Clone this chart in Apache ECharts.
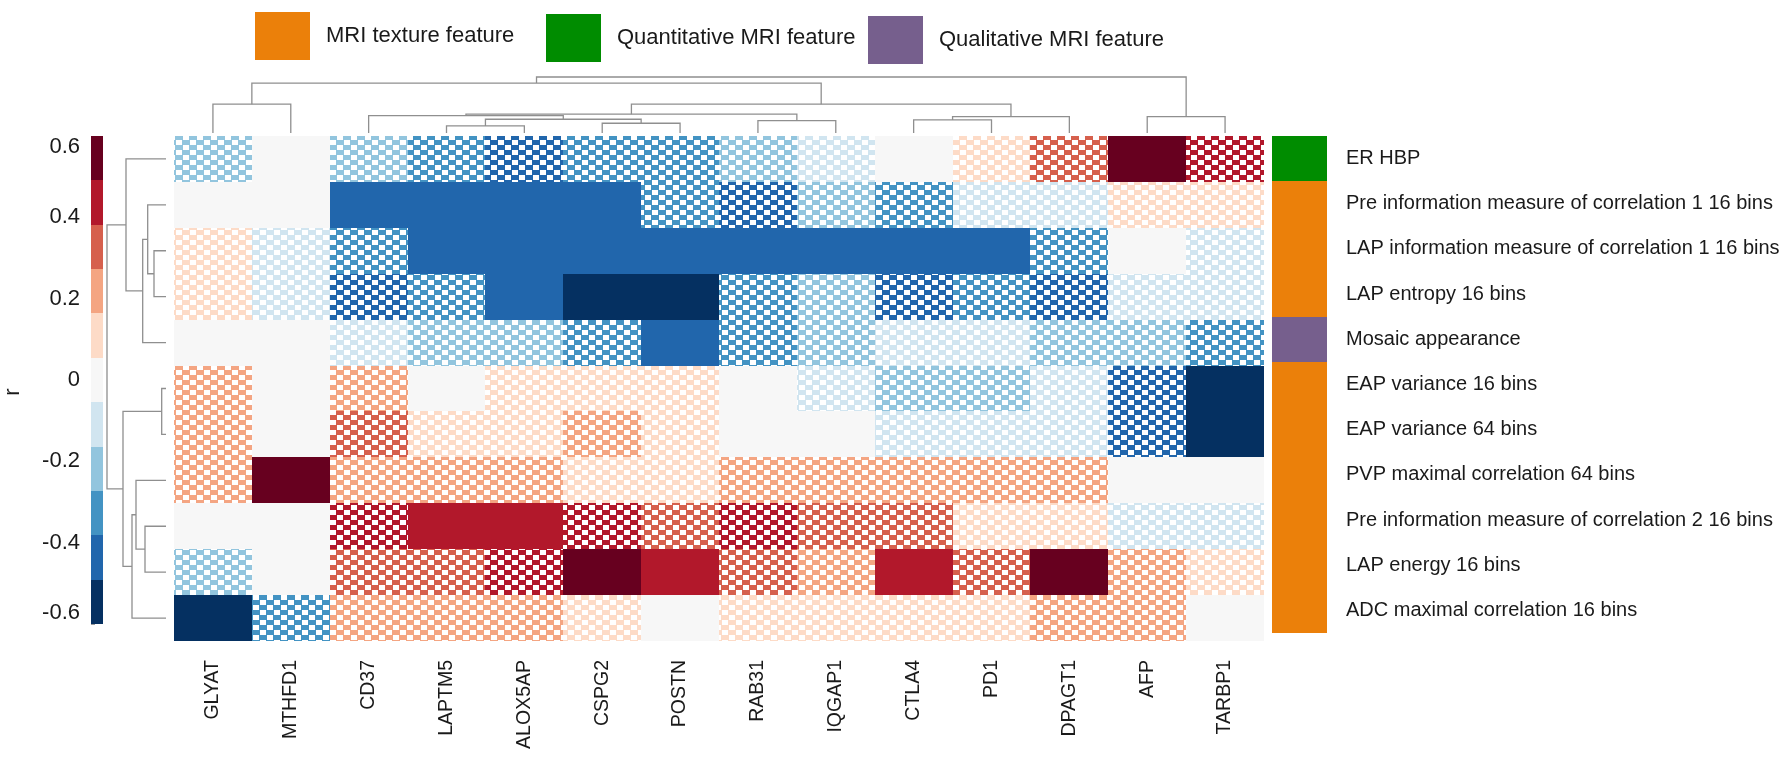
<!DOCTYPE html>
<html>
<head>
<meta charset="utf-8">
<script src="https://cdn.jsdelivr.net/npm/echarts@6/dist/echarts.min.js"></script>
<style>
html,body{margin:0;padding:0;background:#ffffff;}
#chart{width:1785px;height:757px;}
</style>
</head>
<body>
<div id="chart"></div>
<script>
// ---------------- DATA ----------------
const genes = ['GLYAT','MTHFD1','CD37','LAPTM5','ALOX5AP','CSPG2','POSTN','RAB31','IQGAP1','CTLA4','PD1','DPAGT1','AFP','TARBP1'];

const features = [
  'ER HBP',
  'Pre information measure of correlation 1 16 bins',
  'LAP information measure of correlation 1 16 bins',
  'LAP entropy 16 bins',
  'Mosaic appearance',
  'EAP variance 16 bins',
  'EAP variance 64 bins',
  'PVP maximal correlation 64 bins',
  'Pre information measure of correlation 2 16 bins',
  'LAP energy 16 bins',
  'ADC maximal correlation 16 bins'
];

const typeNames  = ['MRI texture feature','Quantitative MRI feature','Qualitative MRI feature'];
const typeColors = ['#eb800a','#008c00','#765f8d'];
// index into typeNames for each feature row
const featureType = [1,0,0,0,2,0,0,0,0,0,0];

// correlation r : rows = features, columns = genes
const rMatrix = [
  [-0.21, 0.02,-0.20,-0.31,-0.42,-0.33,-0.34,-0.23,-0.12, 0.01, 0.10, 0.33, 0.56, 0.43],
  [ 0.00,-0.01,-0.45,-0.44,-0.43,-0.45,-0.34,-0.41,-0.21,-0.32,-0.12,-0.11, 0.10, 0.09],
  [ 0.11,-0.10,-0.35,-0.44,-0.45,-0.46,-0.44,-0.43,-0.42,-0.44,-0.43,-0.31,-0.02,-0.12],
  [ 0.12,-0.11,-0.42,-0.32,-0.45,-0.56,-0.55,-0.33,-0.22,-0.41,-0.31,-0.42,-0.12,-0.10],
  [ 0.01, 0.00,-0.12,-0.22,-0.24,-0.31,-0.44,-0.32,-0.21,-0.11,-0.10,-0.21,-0.23,-0.33],
  [ 0.23, 0.00, 0.22, 0.02, 0.12, 0.11, 0.10,-0.01,-0.12,-0.23,-0.21,-0.11,-0.43,-0.57],
  [ 0.21, 0.01, 0.32, 0.11, 0.12, 0.23, 0.10, 0.00,-0.02,-0.11,-0.12,-0.10,-0.44,-0.58],
  [ 0.22, 0.56, 0.21, 0.22, 0.23, 0.12, 0.11, 0.22, 0.21, 0.23, 0.22, 0.21, 0.01,-0.01],
  [ 0.00, 0.01, 0.43, 0.44, 0.45, 0.42, 0.33, 0.44, 0.32, 0.34, 0.12, 0.11,-0.11,-0.12],
  [-0.22, 0.00, 0.33, 0.34, 0.43, 0.56, 0.45, 0.32, 0.23, 0.44, 0.34, 0.57, 0.22, 0.12],
  [-0.57,-0.33, 0.21, 0.22, 0.21, 0.12, 0.01, 0.11, 0.10, 0.12, 0.11, 0.22, 0.23, 0.00]
];

// 1 = significant (solid cell), 0 = not significant (checkered cell)
const sigMatrix = [
  [0,0,0,0,0,0,0,0,0,0,0,0,1,0],
  [0,0,1,1,1,1,0,0,0,0,0,0,0,0],
  [0,0,0,1,1,1,1,1,1,1,1,0,0,0],
  [0,0,0,0,1,1,1,0,0,0,0,0,0,0],
  [0,0,0,0,0,0,1,0,0,0,0,0,0,0],
  [0,0,0,1,0,0,0,1,0,0,0,0,0,1],
  [0,0,0,0,0,0,0,1,1,0,0,0,0,1],
  [0,1,0,0,0,0,0,0,0,0,0,0,1,1],
  [1,1,0,1,1,0,0,0,0,0,0,0,0,0],
  [0,1,0,0,0,1,1,0,0,1,0,1,0,0],
  [1,0,0,0,0,0,1,0,0,0,0,0,0,1]
];

// colour scale (11 classes)
const colorEdges = [-0.6,-0.491,-0.382,-0.273,-0.164,-0.055,0.055,0.164,0.273,0.382,0.491,0.6];
const rdbuColors = ['#053061','#2166ac','#4393c3','#92c5de','#d1e5f0','#f7f7f7','#fddbc7','#f4a582','#d6604d','#b2182b','#67001f'];
const colorbarMin = -0.6, colorbarMax = 0.6, colorbarStep = 0.2;

// hierarchical clustering merges: [childA, childB, distance] (scipy linkage style)
const colMerges = [
  [3,4,7.0],[5,6,9.7],[7,8,12.3],[9,10,13.0],[14,15,13.7],[17,11,16.3],[12,13,16.3],
  [2,18,17.3],[21,16,18.7],[0,1,28.7],[22,19,28.7],[23,24,49.7],[25,20,55.7]
];
const rowMerges = [
  [5,6,4.3],[2,3,12.0],[1,12,18.3],[8,9,21.0],[13,4,23.3],[7,14,30.0],
  [16,10,34.0],[0,15,40.0],[11,17,43.0],[18,19,59.0]
];

// ---------------- HELPERS ----------------
function colorFor(v){
  for (let i = 0; i < rdbuColors.length; i++){
    if (v <= colorEdges[i+1]) return rdbuColors[i];
  }
  return rdbuColors[rdbuColors.length-1];
}
const patternCache = {};
function patternFor(color){
  if (!patternCache[color]){
    const c = document.createElement('canvas');
    c.width = 14; c.height = 10;
    const ctx = c.getContext('2d');
    ctx.fillStyle = '#ffffff'; ctx.fillRect(0,0,14,10);
    ctx.fillStyle = color;
    ctx.fillRect(0,0,8,5);
    ctx.fillRect(7,5,7,5);
    ctx.fillRect(0,5,1,5);
    patternCache[color] = {image: c, repeat: 'repeat'};
  }
  return patternCache[color];
}
function treeSegments(merges, n){
  const pos = [], h = [];
  for (let i = 0; i < n; i++){ pos[i] = i; h[i] = 0; }
  return merges.map(function(m, k){
    const a = m[0], b = m[1], d = m[2];
    pos[n+k] = (pos[a] + pos[b]) / 2; h[n+k] = d;
    return [pos[a], h[a], pos[b], h[b], d];
  });
}
// pixel-snapped rectangle between two corner points (avoids hairline seams)
function snapRect(x0, y0, x1, y1){
  const a = Math.round(Math.min(x0, x1)), b = Math.round(Math.max(x0, x1));
  const c = Math.round(Math.min(y0, y1)), d = Math.round(Math.max(y0, y1));
  return {x: a, y: c, width: b - a, height: d - c};
}
function cellRect(api){
  const c = api.coord([api.value(0), api.value(1)]);
  const s = api.size([1, 1]);
  return snapRect(c[0]-s[0]/2, c[1]-s[1]/2, c[0]+s[0]/2, c[1]+s[1]/2);
}

const heatData = [];
rMatrix.forEach(function(row, ri){
  row.forEach(function(v, ci){ heatData.push([ci, ri, v, sigMatrix[ri][ci]]); });
});
const colSegs = treeSegments(colMerges, genes.length);
const rowSegs = treeSegments(rowMerges, features.length);
const colRoot = colMerges[colMerges.length-1][2];
const rowRoot = rowMerges[rowMerges.length-1][2];
const bandData = rdbuColors.map(function(c, i){ return [colorEdges[i], colorEdges[i+1], i]; });

const FONT = '"Liberation Sans", Arial, Helvetica, sans-serif';
const TXT = '#1a1a1a';
const DENDRO = '#8f8f8f';

// ---------------- CHART ----------------
const chart = echarts.init(document.getElementById('chart'), null, {renderer: 'canvas'});

const sidebarSeries = typeNames.map(function(name, k){
  const d = [];
  featureType.forEach(function(t, ri){ if (t === k) d.push([0, ri]); });
  return {
    type: 'custom', name: name, xAxisIndex: 3, yAxisIndex: 3,
    itemStyle: {color: typeColors[k]},
    data: d,
    renderItem: function(params, api){
      return {type: 'rect', shape: cellRect(api), style: {fill: api.visual('color')}};
    }
  };
});

function legendAt(name, left, top){
  return {
    data: [name], left: left, top: top, icon: 'rect',
    itemWidth: 55, itemHeight: 48, selectedMode: false,
    textStyle: {fontSize: 22, color: TXT, fontFamily: FONT, padding: [8,0,0,11]}
  };
}

const option = {
  backgroundColor: '#ffffff',
  animation: false,
  legend: [
    legendAt(typeNames[0], 250, 7),
    legendAt(typeNames[1], 541, 9),
    legendAt(typeNames[2], 863, 11)
  ],
  grid: [
    {left: 174, top: 136, width: 1090, height: 505},   // heatmap
    {left: 174, top: 77,  width: 1090, height: 56},    // column dendrogram
    {left: 107, top: 136, width: 59,   height: 505},   // row dendrogram
    {left: 1272, top: 136, width: 55,  height: 497},   // feature type bar
    {left: 91,  top: 136, width: 12,   height: 488}    // colour bar
  ],
  xAxis: [
    {type: 'category', gridIndex: 0, data: genes, position: 'bottom',
     axisLine: {show: false}, axisTick: {show: false}, splitLine: {show: false},
     axisLabel: {rotate: 90, margin: 19, fontSize: 19.5, color: TXT, fontFamily: FONT,
                 verticalAlign: 'middle', padding: [0,0,16,0], interval: 0}},
    {type: 'value', gridIndex: 1, min: -0.5, max: genes.length - 0.5, show: false},
    {type: 'value', gridIndex: 2, min: 0, max: rowRoot, inverse: true, show: false},
    {type: 'category', gridIndex: 3, data: ['type'], show: false},
    {type: 'value', gridIndex: 4, min: 0, max: 1, show: false}
  ],
  yAxis: [
    {type: 'category', gridIndex: 0, data: features, inverse: true, show: false},
    {type: 'value', gridIndex: 1, min: 0, max: colRoot, show: false},
    {type: 'value', gridIndex: 2, min: -0.5, max: features.length - 0.5, inverse: true, show: false},
    {type: 'category', gridIndex: 3, data: features, inverse: true, position: 'right',
     axisLine: {show: false}, axisTick: {show: false}, splitLine: {show: false},
     axisLabel: {margin: 19, fontSize: 20, color: TXT, fontFamily: FONT, interval: 0}},
    {type: 'value', gridIndex: 4, min: colorbarMin, max: colorbarMax, interval: colorbarStep,
     position: 'left', name: 'r', nameLocation: 'middle', nameGap: 67,
     nameTextStyle: {fontSize: 22, color: TXT, fontFamily: FONT, padding: [0,24,0,0]},
     axisLine: {show: false}, splitLine: {show: false},
     axisTick: {show: true, inside: true, length: 4, lineStyle: {color: '#999', width: 1}},
     axisLabel: {margin: 11, fontSize: 22, color: TXT, fontFamily: FONT,
                 verticalAlignMinLabel: 'bottom', verticalAlignMaxLabel: 'top'}}
  ],
  series: [
    {
      type: 'custom', name: 'r', xAxisIndex: 0, yAxisIndex: 0, data: heatData,
      renderItem: function(params, api){
        const col = colorFor(api.value(2));
        const fill = (api.value(3) === 1 || col === '#f7f7f7') ? col : patternFor(col);
        return {type: 'rect', shape: cellRect(api), style: {fill: fill}};
      }
    },
    {
      type: 'custom', name: 'colTree', xAxisIndex: 1, yAxisIndex: 1, data: colSegs,
      renderItem: function(params, api){
        const xa = api.value(0), ha = api.value(1), xb = api.value(2), hb = api.value(3), d = api.value(4);
        return {type: 'polyline', shape: {points: [api.coord([xa, ha]), api.coord([xa, d]), api.coord([xb, d]), api.coord([xb, hb])]},
                style: {stroke: DENDRO, lineWidth: 1.3, fill: null}};
      }
    },
    {
      type: 'custom', name: 'rowTree', xAxisIndex: 2, yAxisIndex: 2, data: rowSegs,
      renderItem: function(params, api){
        const ya = api.value(0), ha = api.value(1), yb = api.value(2), hb = api.value(3), d = api.value(4);
        return {type: 'polyline', shape: {points: [api.coord([ha, ya]), api.coord([d, ya]), api.coord([d, yb]), api.coord([hb, yb])]},
                style: {stroke: DENDRO, lineWidth: 1.3, fill: null}};
      }
    },
    {
      type: 'custom', name: 'colorbar', xAxisIndex: 4, yAxisIndex: 4, data: bandData,
      renderItem: function(params, api){
        const p1 = api.coord([0, api.value(1)]);
        const p2 = api.coord([1, api.value(0)]);
        return {type: 'rect', shape: snapRect(p1[0], p1[1], p2[0], p2[1]),
                style: {fill: rdbuColors[api.value(2)]}};
      }
    }
  ].concat(sidebarSeries)
};

chart.setOption(option);
</script>
</body>
</html>
